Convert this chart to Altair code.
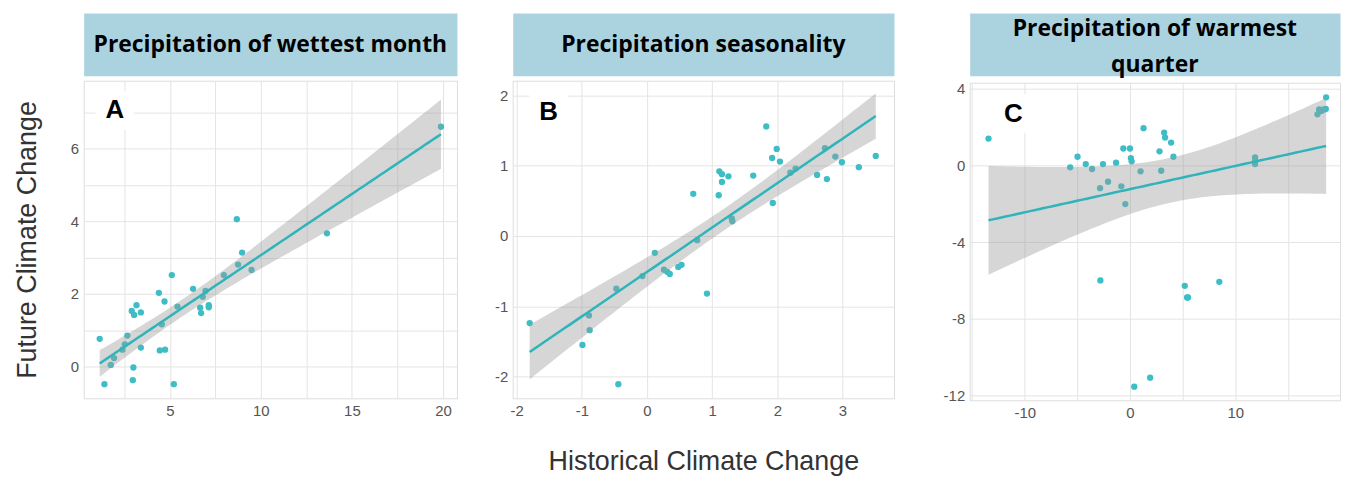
import numpy as np
import pandas as pd
import altair as alt

# ---------------- data ----------------
a_x = [1.15, 1.41, 1.76, 1.94, 2.40, 2.53, 2.67, 2.91, 3.04, 3.00, 2.97, 3.17, 3.41, 3.41,
       4.40, 4.45, 4.74, 4.71, 4.56, 5.11, 5.22, 5.42, 6.28, 6.67, 6.72, 6.81, 6.96, 7.14,
       7.14, 7.97, 8.68, 8.75, 8.97, 9.49, 13.63, 19.89]
a_y = [0.76, -0.49, 0.04, 0.23, 0.46, 0.61, 0.85, 1.53, 1.42, -0.03, -0.38, 1.69, 1.49, 0.52,
       2.03, 0.44, 0.46, 1.79, 1.16, 2.52, -0.49, 1.65, 2.14, 1.62, 1.47, 1.92, 2.08, 1.63,
       1.69, 2.52, 4.06, 2.81, 3.14, 2.66, 3.67, 6.61]

b_x = [-1.80, -0.99, -0.89, -0.88, -0.47, -0.44, -0.07, 0.12, 0.26, 0.31, 0.35, 0.48, 0.53,
       0.71, 0.77, 0.92, 1.10, 1.11, 1.15, 1.15, 1.25, 1.30, 1.31, 1.63, 1.83, 1.92, 1.99,
       2.04, 1.93, 2.20, 2.28, 2.61, 2.73, 2.76, 2.89, 2.99, 3.25, 3.51]
b_y = [-1.24, -1.55, -1.13, -1.34, -0.75, -2.11, -0.57, -0.24, -0.48, -0.51, -0.54, -0.44,
       -0.41, 0.60, -0.06, -0.82, 0.58, 0.92, 0.88, 0.77, 0.85, 0.25, 0.21, 0.86, 1.56, 1.11,
       1.24, 1.06, 0.47, 0.90, 0.96, 0.87, 1.25, 0.81, 1.13, 1.05, 0.98, 1.14]

c_x = [-13.44, -5.68, -4.98, -4.20, -3.60, -2.84, -2.81, -2.56, -2.08, -1.32, -0.82, -0.63,
       -0.44, 0.00, 0.09, 0.16, 0.41, 1.01, 1.29, 1.92, 2.81, 2.97, 3.25, 3.34, 3.91, 4.13,
       5.21, 5.43, 5.52, 8.49, 11.89, 11.89, 11.89, 17.82, 17.98, 18.20, 18.42, 18.61, 18.64]
c_y = [1.40, -0.10, 0.45, 0.07, -0.19, -1.19, -6.00, 0.07, -0.85, 0.14, -1.09, 0.88,
       -2.02, 0.88, 0.38, 0.21, -11.54, -0.31, 1.94, -11.07, 0.73, -0.28, 1.71, 1.45, 1.19,
       0.45, -6.28, -6.89, -6.89, -6.07, 0.42, 0.24, 0.07, 2.66, 2.92, 2.84, 2.92, 2.94, 3.55]

panel_titles = [["Precipitation of wettest month"], ["Precipitation seasonality"],
                ["Precipitation of warmest", "quarter"]]
panel_letters = ["A", "B", "C"]
letter_x = [1.98, -1.51, -11.07]
letter_y = [7.06, 1.76, 2.70]

a_ticks_x = [2.5, 5, 7.5, 10, 12.5, 15, 17.5, 20]
a_ticks_y = [0, 1, 2, 3, 4, 5, 6, 7]
b_ticks_x = [-2, -1.5, -1, -0.5, 0, 0.5, 1, 1.5, 2, 2.5, 3, 3.5]
b_ticks_y = [-2, -1.5, -1, -0.5, 0, 0.5, 1, 1.5, 2]
c_ticks_x = [-15, -10, -5, 0, 5, 10, 15, 20]
c_ticks_y = [-12, -10, -8, -6, -4, -2, 0, 2, 4]

# ---------------- style ----------------
PT = "#3dbdc5"
LINE = "#2fb4ba"
STRIP = "#abd3df"
GRID = "#e4e4e4"
LAB = "#555555"
TXT = "#333333"
H_PLOT = 319
H_HEAD = 63
HEAD_LH = 36


def fit_band(xs, ys, n=80):
    x = np.asarray(xs, float)
    y = np.asarray(ys, float)
    nn = len(x)
    b1, b0 = np.polyfit(x, y, 1)
    xm = x.mean()
    sxx = ((x - xm) ** 2).sum()
    s = np.sqrt(((y - (b0 + b1 * x)) ** 2).sum() / (nn - 2))
    df = nn - 2
    z = 1.959964
    t = z + (z ** 3 + z) / (4 * df) + (5 * z ** 5 + 16 * z ** 3 + 3 * z) / (96 * df ** 2)
    gx = np.linspace(x.min(), x.max(), n)
    fit = b0 + b1 * gx
    se = s * np.sqrt(1 / nn + (gx - xm) ** 2 / sxx)
    return pd.DataFrame({"x": gx, "fit": fit, "lo": fit - t * se, "hi": fit + t * se})


def panel(i, xs, ys, xdom, ydom, xt, xmaj, yt, ymaj, width, xtitle=None, ytitle=None,
          ytitle_pad=0, ytitle_size=27):
    pts = pd.DataFrame({"x": xs, "y": ys})
    band = fit_band(xs, ys)
    lab = pd.DataFrame({"x": [letter_x[i]], "y": [letter_y[i]], "t": [panel_letters[i]]})

    xs_ = alt.Scale(domain=xdom, nice=False, zero=False)
    ys_ = alt.Scale(domain=ydom, nice=False, zero=False)
    xax = alt.Axis(values=xt, labelExpr=f"datum.value % {xmaj} === 0 ? '' + datum.value : ''",
                   ticks=False, domain=False, gridColor=GRID, gridWidth=1, labelColor=LAB,
                   labelFont="Liberation Sans", labelFontSize=15, labelPadding=5,
                   titleFont="Liberation Sans", titleFontSize=27, titleFontWeight="normal",
                   titleColor=TXT, titlePadding=31, labelFlush=False)
    yax = alt.Axis(values=yt, labelExpr=f"datum.value % {ymaj} === 0 ? '' + datum.value : ''",
                   ticks=False, domain=False, gridColor=GRID, gridWidth=1, labelColor=LAB,
                   labelFont="Liberation Sans", labelFontSize=15, labelPadding=5,
                   titleFont="Liberation Sans", titleFontSize=ytitle_size,
                   titleFontWeight="normal", titleColor=TXT, titlePadding=ytitle_pad,
                   labelFlush=False)

    X = alt.X("x:Q", scale=xs_, axis=xax, title=xtitle)
    Y = alt.Y("y:Q", scale=ys_, axis=yax, title=ytitle)

    points = alt.Chart(pts).mark_circle(size=40, opacity=1, color=PT).encode(x=X, y=Y)
    area = alt.Chart(band).mark_area(color="#999999", opacity=0.4).encode(
        x=alt.X("x:Q", scale=xs_), y=alt.Y("lo:Q", scale=ys_), y2="hi:Q")
    line = alt.Chart(band).mark_line(color=LINE, strokeWidth=2.5).encode(
        x=alt.X("x:Q", scale=xs_), y=alt.Y("fit:Q", scale=ys_))
    box = alt.Chart(lab).mark_point(shape="square", filled=True, color="white", opacity=1,
                                    size=1500).encode(x=alt.X("x:Q", scale=xs_),
                                                      y=alt.Y("y:Q", scale=ys_))
    letter = alt.Chart(lab).mark_text(font="Liberation Sans", fontWeight="bold", fontSize=26,
                                      color="black", baseline="middle", align="center").encode(
        x=alt.X("x:Q", scale=xs_), y=alt.Y("y:Q", scale=ys_), text="t:N")
    plot = alt.layer(points, area, line, box, letter).properties(width=width, height=H_PLOT)

    lines = panel_titles[i]
    ty0 = H_HEAD / 2 + 1 - (len(lines) - 1) * (HEAD_LH / 2 - 1.5)
    layers = []
    for k, ln in enumerate(lines):
        tdf = pd.DataFrame({"t": [ln]})
        layers.append(alt.Chart(tdf).mark_text(font="Open Sans", fontWeight="bold",
                                               fontSize=23, color="black", align="center",
                                               baseline="middle").encode(
            text="t:N", x=alt.value(width / 2), y=alt.value(ty0 + k * HEAD_LH)))
    head = alt.layer(*layers).properties(
        width=width, height=H_HEAD, view=alt.ViewBackground(fill=STRIP, stroke="transparent"))
    return alt.vconcat(head, plot, spacing=3)


pa = panel(0, a_x, a_y, [0.27, 20.77], [-0.88, 7.88], a_ticks_x, 5, a_ticks_y, 2, 375,
           ytitle="Future Climate Change", ytitle_pad=29)
pb = panel(1, b_x, b_y, [-2.06, 3.79], [-2.31, 2.21], b_ticks_x, 1, b_ticks_y, 1, 383,
           xtitle="Historical Climate Change")
pc = panel(2, c_x, c_y, [-15.23, 19.96], [-12.25, 4.31], c_ticks_x, 10, c_ticks_y, 4, 372,
           ytitle=" ", ytitle_pad=1, ytitle_size=10)

chart = alt.hconcat(pa, pb, pc, spacing=36).properties(
    padding={"left": 5, "top": 3, "right": 0, "bottom": 0}
).configure_view(stroke=None).configure(background="white")

chart.save("out.html", embed_options={"renderer": "svg", "actions": False})
